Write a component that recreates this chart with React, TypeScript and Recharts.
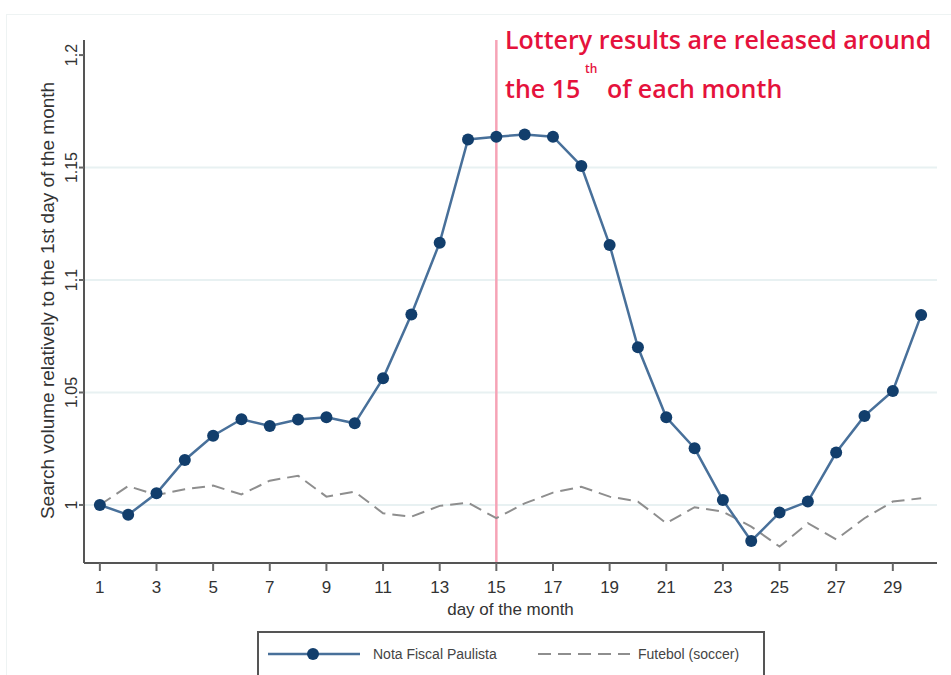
import React from "react";
import {
  LineChart,
  Line,
  XAxis,
  YAxis,
  ReferenceLine,
  Label,
} from "recharts";

// day of the month
const days = [
  1, 2, 3, 4, 5, 6, 7, 8, 9, 10, 11, 12, 13, 14, 15, 16, 17, 18, 19, 20, 21,
  22, 23, 24, 25, 26, 27, 28, 29, 30,
];

// search volume relative to day 1
const notaFiscal = [
  1.0, 0.9956, 1.0052, 1.02, 1.0308, 1.0381, 1.0351, 1.038, 1.039, 1.0363,
  1.0563, 1.0847, 1.1166, 1.1625, 1.1637, 1.1647, 1.1637, 1.1507, 1.1156,
  1.0701, 1.039, 1.0252, 1.0022, 0.984, 0.9966, 1.0015, 1.0233, 1.0396, 1.0507,
  1.0844,
];

const futebol = [
  1.0, 1.0084, 1.0044, 1.007, 1.0086, 1.0047, 1.0108, 1.013, 1.0037, 1.0059,
  0.9963, 0.9948, 0.9996, 1.001, 0.9941, 1.0007, 1.0055, 1.0081, 1.0037, 1.0015,
  0.9919, 0.999, 0.997, 0.9904, 0.9815, 0.9919, 0.9847, 0.9941, 1.0015, 1.003,
];

const xTicks = [1, 3, 5, 7, 9, 11, 13, 15, 17, 19, 21, 23, 25, 27, 29];
const yTicks = [1, 1.05, 1.1, 1.15, 1.2];
const gridValues = [1, 1.05, 1.1, 1.15];
const releaseDay = 15;

const data = days.map((d, i) => ({
  day: d,
  nota: notaFiscal[i],
  futebol: futebol[i],
}));

const AXIS = "#555555";
const NAVY = "#123e6c";
const NAVY_LINE = "#48709a";
const GREY = "#8e8e8e";
const RED = "#e5123c";
const FONT = "'Liberation Sans', Arial, sans-serif";
const NOTE_FONT = "'Open Sans', sans-serif";

const YTick = (props: any) => {
  const { x, y, payload } = props;
  return (
    <text
      x={x}
      y={y}
      transform={`rotate(-90, ${x}, ${y})`}
      textAnchor="middle"
      fontSize={16}
      fontFamily={FONT}
      fill="#333"
    >
      {String(payload.value)}
    </text>
  );
};

const YTitle = (props: any) => {
  const vb = props.viewBox;
  const cx = 47;
  const cy = vb.y + vb.height / 2 - 1;
  return (
    <text
      x={cx}
      y={cy}
      transform={`rotate(-90, ${cx}, ${cy})`}
      textAnchor="middle"
      dominantBaseline="central"
      fontSize={19}
      fontFamily={FONT}
      fill="#333"
    >
      Search volume relatively to the 1st day of the month
    </text>
  );
};

export default function App() {
  return (
    <div
      style={{
        position: "absolute",
        left: 0,
        top: 0,
        width: 951,
        height: 675,
        background: "#fff",
        overflow: "hidden",
      }}
    >
      {/* faint outer panel edge */}
      <div
        style={{
          position: "absolute",
          left: 6,
          top: 14,
          width: 960,
          height: 700,
          borderTop: "1px solid #eef3f3",
          borderLeft: "1px solid #eef3f3",
        }}
      />
      <div style={{ position: "absolute", left: 0, top: 0 }}>
        <LineChart
          width={951}
          height={675}
          data={data}
          margin={{ top: 40, right: 14, bottom: 62, left: 0 }}
        >
          {gridValues.map((v) => (
            <ReferenceLine
              key={v}
              y={v}
              stroke="#e8f1f2"
              strokeWidth={2}
              ifOverflow="extendDomain"
            />
          ))}
          <XAxis
            type="number"
            dataKey="day"
            domain={[0.44, 30.56]}
            ticks={xTicks}
            allowDataOverflow
            height={50}
            stroke={AXIS}
            strokeWidth={2}
            tickSize={8}
            tickLine={{ stroke: "#666", strokeWidth: 2 }}
            tick={{ fontSize: 17, fontFamily: FONT, fill: "#333" }}
            tickMargin={10}
          >
            <Label
              value="day of the month"
              position="insideBottom"
              offset={-2}
              style={{ fontSize: 17, fontFamily: FONT, fill: "#333" }}
            />
          </XAxis>
          <YAxis
            type="number"
            domain={[0.9742, 1.2067]}
            ticks={yTicks}
            allowDataOverflow
            width={84}
            stroke={AXIS}
            strokeWidth={2}
            tickSize={5}
            tickLine={{ stroke: "#666", strokeWidth: 2 }}
            tickMargin={2}
            tick={<YTick />}
          >
            <Label content={<YTitle />} />
          </YAxis>
          <ReferenceLine
            x={releaseDay}
            stroke="#f6a3b6"
            strokeWidth={2.5}
          />
          <Line
            type="linear"
            dataKey="futebol"
            stroke={GREY}
            strokeWidth={2}
            strokeDasharray="13 7"
            dot={false}
            isAnimationActive={false}
          />
          <Line
            type="linear"
            dataKey="nota"
            stroke={NAVY_LINE}
            strokeWidth={2.5}
            dot={{ r: 6, fill: NAVY, stroke: NAVY, strokeWidth: 0 }}
            isAnimationActive={false}
          />
        </LineChart>
      </div>

      {/* annotation and legend */}
      <svg
        width={951}
        height={675}
        style={{ position: "absolute", left: 0, top: 0, pointerEvents: "none" }}
      >
        <text x={505} y={49} fontSize={25} fontWeight={600} fontFamily={NOTE_FONT} fill={RED}>
          Lottery results are released around
        </text>
        <text x={505} y={98} fontSize={25} fontWeight={600} fontFamily={NOTE_FONT} fill={RED}>
          the 15
        </text>
        <text x={585} y={73} fontSize={12} fontWeight={600} fontFamily={NOTE_FONT} fill={RED}>
          th
        </text>
        <text x={607} y={98} fontSize={25} fontWeight={600} fontFamily={NOTE_FONT} fill={RED}>
          of each month
        </text>

        <rect
          x={258}
          y={632}
          width={506}
          height={60}
          fill="#fff"
          stroke="#555"
          strokeWidth={2}
        />
        <line x1={268} y1={654} x2={360} y2={654} stroke={NAVY_LINE} strokeWidth={2.5} />
        <circle cx={313} cy={654} r={6} fill={NAVY} />
        <text x={373} y={659} fontSize={14} fontFamily={FONT} fill="#444">
          Nota Fiscal Paulista
        </text>
        <line
          x1={538}
          y1={654}
          x2={630}
          y2={654}
          stroke={GREY}
          strokeWidth={2}
          strokeDasharray="13 7"
        />
        <text x={638} y={659} fontSize={14} fontFamily={FONT} fill="#444">
          Futebol (soccer)
        </text>
      </svg>
    </div>
  );
}
